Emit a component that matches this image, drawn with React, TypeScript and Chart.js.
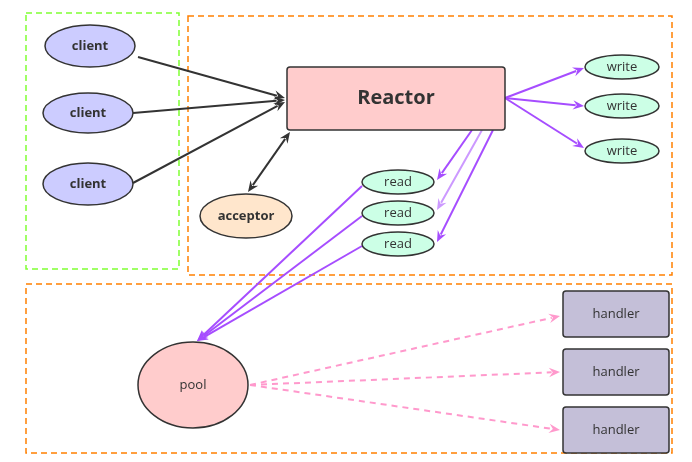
import React, { useEffect, useRef } from "react";
import { Chart, registerables } from "chart.js";
Chart.register(...registerables);

// Nodes: [label, cx, cy, rx, ry, fill, bold, fontSize]
const ellipseLabels = ["client", "client", "client", "acceptor", "write", "write", "write", "read", "read", "read", "pool"];
const ellipseX = [90, 88, 88, 246, 622, 622, 622, 398, 398, 398, 193];
const ellipseY = [46, 113, 184, 216, 67, 106, 151, 182, 213, 244, 385];
const ellipseRx = [45, 45, 45, 46, 37, 37, 37, 36, 36, 36, 55];
const ellipseRy = [21, 20, 21, 22, 12, 12, 12, 12, 12, 12, 43];
const ellipseFill = ["#ccccff", "#ccccff", "#ccccff", "#ffe6cc", "#ccffe6", "#ccffe6", "#ccffe6", "#ccffe6", "#ccffe6", "#ccffe6", "#ffcccc"];
const ellipseBold = [true, true, true, true, false, false, false, false, false, false, false];

// Rects: [label, x1, y1, x2, y2]
const rectLabels = ["Reactor", "handler", "handler", "handler"];
const rectX1 = [287, 563, 563, 563];
const rectY1 = [67, 291, 349, 407];
const rectX2 = [505, 669, 669, 669];
const rectY2 = [130, 337, 395, 453];
const rectFill = ["#ffcccc", "#c4bfd8", "#c4bfd8", "#c4bfd8"];

// Dashed groups
const groupX1 = [26, 188, 26];
const groupY1 = [13, 16, 284];
const groupX2 = [179, 672, 672];
const groupY2 = [269, 275, 453];
const groupColor = ["#80ff33", "#ff8000", "#ff8000"];

// Arrows: x1,y1 -> x2,y2
const arrowX1 = [138, 133, 133, 248, 505, 505, 505, 472, 482, 493, 362, 362, 362, 250, 250, 250];
const arrowY1 = [57, 113, 183, 192, 98, 98, 98, 130, 130, 130, 186, 216, 246, 385, 385, 385];
const arrowX2 = [285, 285, 285, 290, 584, 584, 584, 437, 437, 437, 197, 197, 197, 560, 560, 560];
const arrowY2 = [98, 100, 102, 132, 68, 106, 148, 180, 210, 242, 341, 341, 341, 316, 372, 430];
const arrowColor = ["#333", "#333", "#333", "#333", "#a64dff", "#a64dff", "#a64dff", "#a64dff", "#cc99ff", "#a64dff", "#a64dff", "#a64dff", "#a64dff", "#ff99cc", "#ff99cc", "#ff99cc"];
const arrowDashed = [false, false, false, false, false, false, false, false, false, false, false, false, false, true, true, true];
const arrowBoth = [false, false, false, true, false, false, false, false, false, false, false, false, false, false, false, false];

const FONT = "'Open Sans', 'Noto Sans', sans-serif";

const diagram = {
  id: "diagram",
  afterDraw(chart: any) {
    const ctx: CanvasRenderingContext2D = chart.ctx;
    const xs = chart.scales.x, ys = chart.scales.y;
    const X = (v: number) => xs.getPixelForValue(v);
    const Y = (v: number) => ys.getPixelForValue(v);
    ctx.save();
    // groups
    groupX1.forEach((_, i) => {
      ctx.setLineDash([6, 4]);
      ctx.strokeStyle = groupColor[i];
      ctx.lineWidth = 1.5;
      ctx.strokeRect(X(groupX1[i]), Y(groupY1[i]), X(groupX2[i]) - X(groupX1[i]), Y(groupY2[i]) - Y(groupY1[i]));
    });
    ctx.setLineDash([]);
    // arrows
    arrowX1.forEach((_, i) => {
      const x1 = X(arrowX1[i]), y1 = Y(arrowY1[i]), x2 = X(arrowX2[i]), y2 = Y(arrowY2[i]);
      ctx.strokeStyle = arrowColor[i];
      ctx.fillStyle = arrowColor[i];
      ctx.lineWidth = 2;
      ctx.setLineDash(arrowDashed[i] ? [6, 5] : []);
      const a = Math.atan2(y2 - y1, x2 - x1);
      const L = 12;
      ctx.beginPath();
      const sx = arrowBoth[i] ? x1 + Math.cos(a) * L * 0.7 : x1;
      const sy = arrowBoth[i] ? y1 + Math.sin(a) * L * 0.7 : y1;
      ctx.moveTo(sx, sy);
      ctx.lineTo(x2 - Math.cos(a) * L * 0.7, y2 - Math.sin(a) * L * 0.7);
      ctx.stroke();
      ctx.setLineDash([]);
      const head = (hx: number, hy: number, ang: number) => {
        ctx.beginPath();
        ctx.moveTo(hx, hy);
        ctx.lineTo(hx - L * Math.cos(ang - 0.4), hy - L * Math.sin(ang - 0.4));
        ctx.lineTo(hx - L * 0.6 * Math.cos(ang), hy - L * 0.6 * Math.sin(ang));
        ctx.lineTo(hx - L * Math.cos(ang + 0.4), hy - L * Math.sin(ang + 0.4));
        ctx.closePath();
        ctx.fill();
      };
      head(x2, y2, a);
      if (arrowBoth[i]) head(x1, y1, a + Math.PI);
    });
    // rects
    rectLabels.forEach((lab, i) => {
      const x = X(rectX1[i]), y = Y(rectY1[i]), w = X(rectX2[i]) - x, h = Y(rectY2[i]) - y;
      ctx.beginPath();
      (ctx as any).roundRect(x, y, w, h, 3);
      ctx.fillStyle = rectFill[i];
      ctx.fill();
      ctx.strokeStyle = "#333";
      ctx.lineWidth = 1.5;
      ctx.stroke();
      ctx.fillStyle = "#333";
      ctx.textAlign = "center";
      ctx.textBaseline = "middle";
      ctx.font = i === 0 ? `bold 20px ${FONT}` : `13px ${FONT}`;
      ctx.fillText(lab, x + w / 2, y + h / 2);
    });
    // ellipses
    ellipseLabels.forEach((lab, i) => {
      ctx.beginPath();
      ctx.ellipse(X(ellipseX[i]), Y(ellipseY[i]), ellipseRx[i], ellipseRy[i], 0, 0, Math.PI * 2);
      ctx.fillStyle = ellipseFill[i];
      ctx.fill();
      ctx.strokeStyle = "#333";
      ctx.lineWidth = 1.5;
      ctx.stroke();
      ctx.fillStyle = "#333";
      ctx.textAlign = "center";
      ctx.textBaseline = "middle";
      ctx.font = ellipseBold[i] ? `bold 13px ${FONT}` : `13px ${FONT}`;
      ctx.fillText(lab, X(ellipseX[i]), Y(ellipseY[i]));
    });
    ctx.restore();
  },
};

export default function App() {
  const ref = useRef<HTMLCanvasElement>(null);
  useEffect(() => {
    document.body.style.margin = "0";
    const chart = new Chart(ref.current!, {
      type: "scatter",
      data: { datasets: [{ data: ellipseX.map((x, i) => ({ x, y: ellipseY[i] })), pointRadius: 0 }] },
      options: {
        animation: false,
        responsive: false,
        layout: { padding: 0 },
        plugins: { legend: { display: false }, tooltip: { enabled: false } },
        scales: {
          x: { type: "linear", min: 0, max: 692, display: false },
          y: { type: "linear", min: 0, max: 462, reverse: true, display: false },
        },
      },
      plugins: [diagram],
    });
    return () => chart.destroy();
  }, []);
  return (
    <div style={{ width: 692, height: 462, background: "#fff" }}>
      <canvas ref={ref} width={692} height={462} />
    </div>
  );
}
